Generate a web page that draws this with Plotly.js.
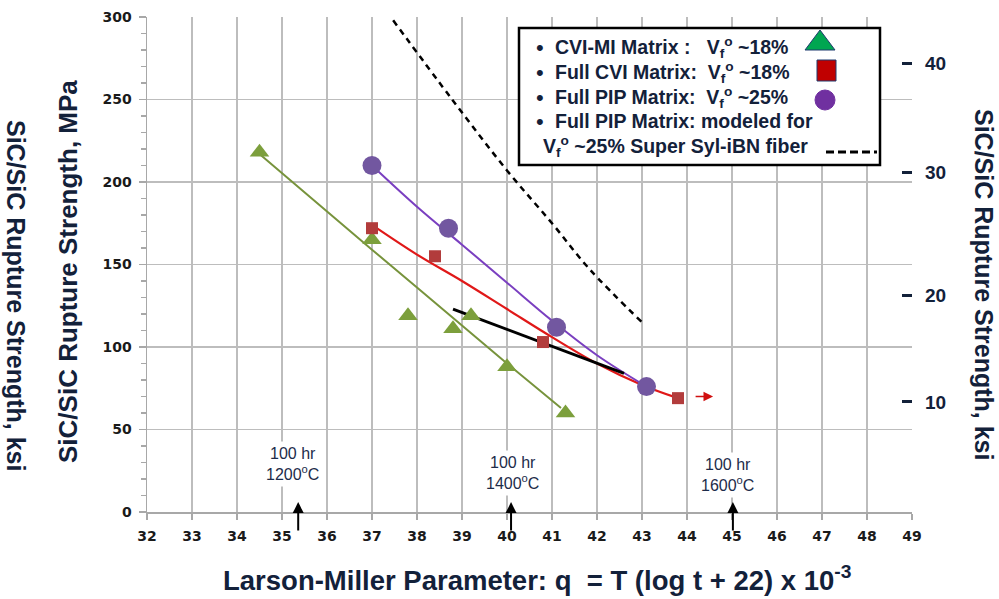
<!DOCTYPE html>
<html><head><meta charset="utf-8">
<script src="https://cdn.plot.ly/plotly-3.0.1.min.js"></script>
<style>html,body{margin:0;padding:0;background:#fff}</style>
</head><body>
<div id="chart" style="width:999px;height:599px"></div>
<script>
// ---- data (Larson-Miller parameter q vs rupture strength, MPa) ----
// CVI-MI matrix, Vf ~18% (triangles) and its trend line
const cviMiQ = [34.5, 37.0, 37.8, 38.8, 39.2, 40.0, 41.3];
const cviMiS = [218, 165, 119, 111, 119, 88, 60];
const cviMiFitQ = [34.5, 36.0, 37.0, 38.0, 39.0, 40.0, 41.2];
const cviMiFitS = [217, 182, 159, 136, 113, 90, 63];
// Full CVI matrix, Vf ~18% (squares) and its trend line
const cviQ = [37.0, 38.4, 40.8, 43.8];
const cviS = [172, 155, 103, 69];
const cviFitQ = [37.0, 38.0, 39.0, 40.0, 41.0, 42.0, 43.0, 43.8];
const cviFitS = [174, 156, 140, 123, 106, 90, 77, 69];
// Full PIP matrix, Vf ~25% (circles) and its trend line
const pipQ = [37.0, 38.7, 41.1, 43.1];
const pipS = [210, 172, 112, 76];
const pipFitQ = [37.0, 38.0, 39.0, 40.0, 41.0, 42.0, 43.1];
const pipFitS = [210, 185, 162, 139, 116, 95, 76];
// black solid line
const blackQ = [38.8, 42.6];
const blackS = [123, 84];
// modeled Super Syl-iBN fiber (dashed)
const modelQ = [37.47, 38.78, 40.0, 41.0, 41.84, 43.0];
const modelS = [298, 250, 207, 175, 147, 115];
// tick labels
const xTickVals = [32,33,34,35,36,37,38,39,40,41,42,43,44,45,46,47,48,49];
const yTickVals = [0,50,100,150,200,250,300];
const ksiTickPos = [66.7, 131.5, 206, 272];
const ksiTickText = ['10','20','30','40'];
// 100 hr markers
const markQ = [35.36, 40.09, 45.02];
const markLabQ = [35.23, 40.12, 44.9];
const markLabS = [29, 23.5, 22.5];
const markText = ['100 hr<br>1200<sup>o</sup>C','100 hr<br>1400<sup>o</sup>C','100 hr<br>1600<sup>o</sup>C'];
const legendText = [
  'CVI-MI Matrix :   V<sub>f</sub><sup>o</sup> ~18%',
  'Full CVI Matrix:  V<sub>f</sub><sup>o</sup> ~18%',
  'Full PIP Matrix:  V<sub>f</sub><sup>o</sup> ~25%',
  'Full PIP Matrix: modeled for'
];
const legendText5 = 'V<sub>f</sub><sup>o</sup> ~25% Super Syl-iBN fiber';

// ---- layout helpers (pixel -> paper) ----
const L = 147, R = 912, T = 17, B = 512;
const PX = px => (px - L) / (R - L);
const PY = py => (B - py) / (B - T);

const NAVY = '#13213a';
const NARROW = 'Liberation Sans Narrow, Liberation Sans, Arial, sans-serif';
const SANS = 'Liberation Sans, Arial, sans-serif';
const DJ = 'DejaVu Sans, Liberation Sans, sans-serif';

const traces = [
  {x: cviMiFitQ, y: cviMiFitS, mode: 'lines', line: {color: '#77933c', width: 2}, hoverinfo: 'skip'},
  {x: cviFitQ, y: cviFitS, mode: 'lines', line: {color: '#e01818', width: 2.2, shape: 'spline'}, hoverinfo: 'skip'},
  {x: pipFitQ, y: pipFitS, mode: 'lines', line: {color: '#7a3fc0', width: 2, shape: 'spline'}, hoverinfo: 'skip'},
  {x: blackQ, y: blackS, mode: 'lines', line: {color: '#000000', width: 3}},
  {x: modelQ, y: modelS, mode: 'lines', line: {color: '#000000', width: 2.5, dash: '6px,5px', shape: 'spline'}},
  {x: cviMiQ, y: cviMiS, mode: 'markers', marker: {symbol: 'triangle-up', size: 17, color: '#7c9f3c', line: {width: 0}}},
  {x: cviQ, y: cviS, mode: 'markers', marker: {symbol: 'square', size: 12, color: '#b23c3c', line: {width: 0}}},
  {x: pipQ, y: pipS, mode: 'markers', marker: {symbol: 'circle', size: 19, color: '#7257a0', line: {width: 0}}},
  {x: [null], y: [null], yaxis: 'y2', mode: 'markers', showlegend: false}
];

const annotations = [];
// 100 hr labels + arrows
for (let i = 0; i < markQ.length; i++) {
  annotations.push({x: markLabQ[i], y: markLabS[i], xref: 'x', yref: 'y', text: markText[i], showarrow: false,
    font: {family: SANS, size: 16, color: '#1d2c4a'}, bgcolor: '#ffffff', borderpad: 3, align: 'center'});
  annotations.push({x: markQ[i], y: 6, xref: 'x', yref: 'y', ax: 0, ay: 30, text: '', showarrow: true,
    arrowhead: 2, arrowsize: 1.1, arrowwidth: 2, arrowcolor: '#000000', standoff: 0, startstandoff: 0});
}
// red arrow
annotations.push({x: 44.58, y: 70, xref: 'x', yref: 'y', ax: -19, ay: 0, text: '', showarrow: true,
  arrowhead: 2, arrowsize: 1.2, arrowwidth: 1.6, arrowcolor: '#d01010', standoff: 0});
// legend text
const legY = [48, 72, 97, 121];
legY.forEach((py, i) => {
  annotations.push({x: PX(534), y: PY(py), xref: 'paper', yref: 'paper', xanchor: 'left', yanchor: 'middle',
    text: '•', showarrow: false, font: {family: SANS, size: 22, color: NAVY}});
  annotations.push({x: PX(553), y: PY(py), xref: 'paper', yref: 'paper', xanchor: 'left', yanchor: 'middle',
    text: '<b>' + legendText[i] + '</b>', showarrow: false, font: {family: NARROW, size: 19.5, color: NAVY}});
});
annotations.push({x: PX(541), y: PY(146), xref: 'paper', yref: 'paper', xanchor: 'left', yanchor: 'middle',
  text: '<b>' + legendText5 + '</b>', showarrow: false, font: {family: NARROW, size: 19.5, color: NAVY}});
// axis titles
annotations.push({x: PX(537), y: PY(578), xref: 'paper', yref: 'paper', xanchor: 'center', yanchor: 'middle',
  text: '<b>Larson-Miller Parameter: q  = T (log t + 22) x 10<sup>-3</sup></b>', showarrow: false,
  font: {family: NARROW, size: 27.5, color: NAVY}});
annotations.push({x: PX(68), y: PY(272), xref: 'paper', yref: 'paper', xanchor: 'center', yanchor: 'middle',
  text: '<b>SiC/SiC Rupture Strength, MPa</b>', textangle: -90, showarrow: false,
  font: {family: NARROW, size: 26, color: NAVY}});
annotations.push({x: PX(16), y: PY(295), xref: 'paper', yref: 'paper', xanchor: 'center', yanchor: 'middle',
  text: '<b>SiC/SiC Rupture Strength, ksi</b>', textangle: 90, showarrow: false,
  font: {family: SANS, size: 25, color: NAVY}});
annotations.push({x: PX(984), y: PY(284), xref: 'paper', yref: 'paper', xanchor: 'center', yanchor: 'middle',
  text: '<b>SiC/SiC Rupture Strength, ksi</b>', textangle: 90, showarrow: false,
  font: {family: SANS, size: 25, color: NAVY}});

const shapes = [
  {type: 'rect', xref: 'paper', yref: 'paper', x0: PX(519), x1: PX(880), y0: PY(165), y1: PY(28),
    line: {color: '#000000', width: 2.5}, fillcolor: '#ffffff', layer: 'above'},
  // legend symbols
  {type: 'path', xref: 'paper', yref: 'paper',
    path: `M ${PX(805)} ${PY(50)} L ${PX(835)} ${PY(50)} L ${PX(820)} ${PY(30)} Z`,
    fillcolor: '#00a651', line: {color: '#1f3a6e', width: 1}, layer: 'above'},
  {type: 'rect', xref: 'paper', yref: 'paper', x0: PX(817), x1: PX(836), y0: PY(81), y1: PY(60),
    fillcolor: '#c00000', line: {color: '#1f3a6e', width: 1}, layer: 'above'},
  {type: 'circle', xref: 'paper', yref: 'paper', x0: PX(815), x1: PX(835), y0: PY(110), y1: PY(90),
    fillcolor: '#7030a0', line: {color: '#7030a0', width: 1}, layer: 'above'},
  {type: 'line', xref: 'paper', yref: 'paper', x0: PX(826), x1: PX(877), y0: PY(152), y1: PY(152),
    line: {color: '#000000', width: 3, dash: '8px,4px'}, layer: 'above'}
];

const layout = {
  width: 999, height: 599,
  margin: {l: L, r: 999 - R, t: T, b: 599 - B, pad: 0},
  paper_bgcolor: '#ffffff', plot_bgcolor: '#ffffff',
  showlegend: false,
  xaxis: {
    range: [32, 49], tickvals: xTickVals, showgrid: true, gridcolor: '#bdbdbd', gridwidth: 1.5,
    zeroline: false, showline: true, linecolor: '#a8a8a8', linewidth: 1.5,
    ticks: 'outside', ticklen: 6, tickcolor: '#a8a8a8', tickwidth: 1.5,
    tickfont: {family: DJ, size: 14, color: '#1a1a1a', weight: 'bold'}, ticklabelstandoff: 5
  },
  yaxis: {
    range: [0, 300], tickvals: yTickVals, showgrid: true, gridcolor: '#bdbdbd', gridwidth: 1.5,
    zeroline: false, showline: true, linecolor: '#a8a8a8', linewidth: 1.5,
    ticks: 'outside', ticklen: 7, tickcolor: '#a8a8a8', tickwidth: 1.5,
    minor: {dtick: 10, ticks: 'outside', ticklen: 5, tickcolor: '#a8a8a8', tickwidth: 1.2, showgrid: false},
    tickfont: {family: DJ, size: 14, color: '#1a1a1a', weight: 'bold'}, ticklabelstandoff: 4
  },
  yaxis2: {
    overlaying: 'y', side: 'right', range: [0, 300], tickvals: ksiTickPos, ticktext: ksiTickText,
    showgrid: false, zeroline: false, showline: false,
    ticks: 'inside', ticklen: 10, tickwidth: 3, tickcolor: NAVY,
    tickfont: {family: SANS, size: 19, color: NAVY, weight: 'bold'}, ticklabelstandoff: 12
  },
  annotations: annotations,
  shapes: shapes
};

Plotly.newPlot('chart', traces, layout, {staticPlot: true, displayModeBar: false});
</script>
</body></html>
